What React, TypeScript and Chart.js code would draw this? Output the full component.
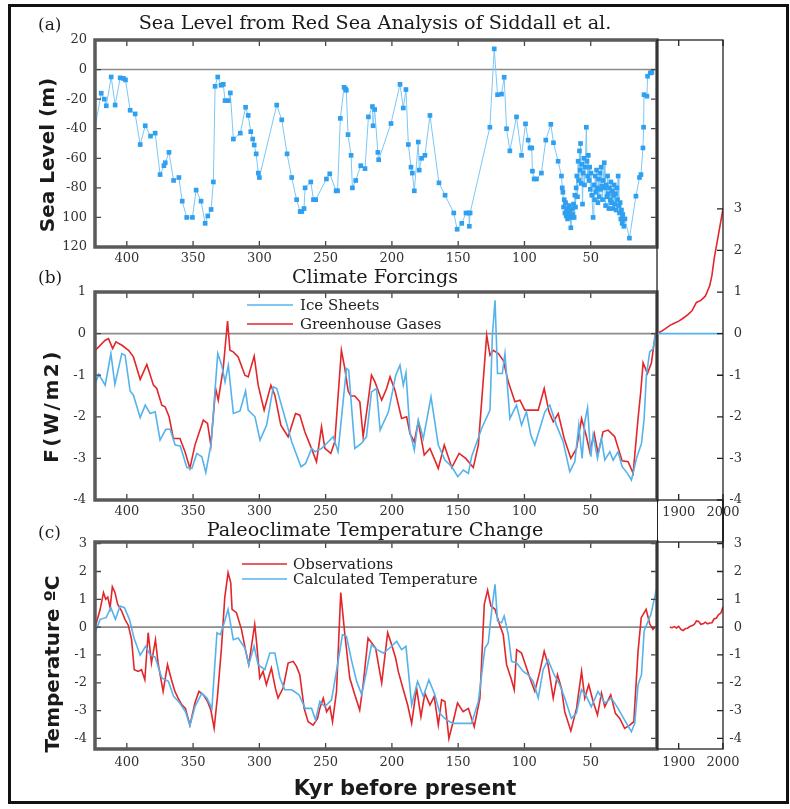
import React, { useEffect, useRef } from 'react';
import { Chart, registerables } from 'chart.js';
Chart.register(...registerables);

type P = [number, number];

// ---------- tick values ----------
const kyrTicks = [400, 350, 300, 250, 200, 150, 100, 50];
const yearTicks = [1900, 2000];
const seaLevelTicks = [20, 0, -20, -40, -60, -80, -100, -120];
const forcingTicks = [1, 0, -1, -2, -3, -4];
const tempTicks = [3, 2, 1, 0, -1, -2, -3, -4];
const rightTicks = [3, 2, 1, 0, -1, -2, -3, -4];

// ---------- (a) sea level (kyr BP, m) ----------
const seaLevel: P[] = [
  [425,-44],[419.3,-16],[417,-20],[415.5,-24.5],[411.8,-5],[408.8,-24],[405,-5.6],[402.5,-6],[401,-7],[397.5,-27.5],
  [393.7,-30],[389.9,-50.7],[386.1,-38],[382.1,-45],[378.6,-43],[374.9,-71],[372,-65],[371,-63],[368.2,-56],[364.7,-75],
  [360.7,-73],[358.2,-89],[354.8,-100],[350.5,-100],[347.7,-81.5],[344,-89],[340.9,-104],[338.9,-99],[336.4,-94.6],[334.7,-76],
  [333.4,-11.3],[331.4,-5],[328.9,-10.6],[327.2,-10],[325.9,-21],[323.4,-21],[321.9,-15.8],[319.6,-47],[314.4,-43],[310.4,-25.5],
  [308.4,-31],[306.5,-42],[305,-47],[303.9,-51],[302.4,-57],[300.8,-70],[300,-73],[286.9,-24],[283.1,-34],[279.1,-57],
  [275.6,-73],[271.9,-88],[269.2,-96],[268,-96],[266.3,-94],[265.5,-80],[261.2,-76],[259.2,-88],[257.5,-88],[249.4,-74],
  [246.9,-70.5],[242.1,-82],[241,-82],[238.9,-33],[236.1,-12],[235,-13],[234.4,-14],[233.1,-44],[230.8,-58],[229.8,-80],
  [227.3,-75],[223.5,-65],[220.3,-67],[217.7,-32],[214.7,-25],[214.2,-38],[213,-27],[210.6,-56],[210,-61],[200.7,-36.5],
  [193.9,-10],[191.4,-26],[189.4,-13.5],[187.6,-50.7],[185.6,-66],[184.6,-70],[183.1,-82],[180.1,-49],[179.4,-68],[177.6,-60],
  [175.1,-58],[171.3,-31],[164.5,-76.6],[159.9,-85],[153.3,-97],[150.8,-108],[147.3,-104],[144.1,-97],[142,-97],[141.6,-106],
  [141,-97],[126.1,-39],[122.8,14],[120.3,-17],[117.3,-16.6],[115.3,-5.2],[113.5,-40],[111,-55],[106,-32],[102.2,-58],
  [99.2,-36.7],[97.2,-47.7],[95.8,-53],[94.5,-53],[94,-68.7],[92.7,-74],[90.9,-74],[87.2,-70],[83.9,-47.7],[80.1,-37],
  [78.1,-49.5],[74.6,-62],[72.1,-72],[71.5,-80],[71,-83],[70.5,-93],[70,-88],[69.5,-97],[69,-90],[68.5,-99],
  [68,-94],[67.5,-101],[67,-96],[66.5,-92],[66,-99],[65.5,-95],[65,-107],[64.5,-100],[64,-94],[63.5,-98],
  [63,-91],[62.5,-100],[62,-85],[61.5,-93],[61,-80],[60.5,-72],[60,-86],[59.5,-62],[59,-75],[58.5,-55],
  [58,-68],[57.7,-50],[57.2,-77],[56.7,-64],[56.2,-91],[55.7,-70],[55.2,-60],[54.7,-78],[54.2,-66],[53.3,-39],
  [52.8,-62],[52.3,-72],[51.8,-58],[51.3,-75],[50.8,-66],[50.3,-81],[49.8,-70],[49.2,-85],[48.2,-100],[47.6,-78],
  [47.1,-88],[46.6,-72],[46.1,-83],[45.6,-68],[45.1,-80],[44.6,-90],[44.1,-74],[43.6,-86],[43.1,-70],[42.6,-81],
  [42.1,-66],[41.6,-79],[41.1,-88],[40.6,-75],[39.8,-63],[39.3,-80],[38.8,-92],[38.3,-78],[37.8,-86],[37.3,-72],
  [36.8,-84],[36.3,-94],[35.8,-80],[35.3,-88],[34.8,-76],[34.3,-90],[33.8,-82],[33.3,-94],[32.8,-85],[32.3,-78],
  [31.8,-91],[31.3,-84],[30.8,-95],[30.3,-80],[29.8,-88],[29.3,-72],[28.8,-92],[28.3,-97],[27.8,-90],[27.3,-101],
  [26.8,-95],[26.3,-104],[25.8,-98],[25,-106],[24.2,-101],[20.8,-114],[15.9,-85.6],[13.2,-73],[12.1,-71],[10.6,-53],
  [10.1,-39],[9.8,-17],[7.6,-18],[7.1,-4.5],[5.1,-2.3],[3.9,-2],
];

// ---------- (b) climate forcings (kyr BP, W/m2) ----------
const iceSheets: P[] = [
  [424.3,-1.24],[421.2,-0.98],[416.3,-1.24],[412,-0.48],[409,-1.22],[403.8,-0.48],[401.3,-0.52],[397.5,-1.38],[395,-1.48],[389.9,-2.02],
  [386.1,-1.72],[382.4,-1.92],[378.6,-1.88],[374.9,-2.56],[370.6,-2.3],[367.3,-2.3],[363.5,-2.68],[359.7,-2.7],[354.7,-3.22],[350.9,-3.24],
  [347.2,-2.88],[343.4,-2.96],[340.4,-3.34],[336.4,-2.64],[331.4,-0.48],[328.4,-0.76],[325.9,-1.16],[323.4,-0.76],[319.6,-1.92],[314.6,-1.86],
  [310.4,-1.38],[308.4,-1.84],[303.3,-2.0],[299.5,-2.56],[294.5,-2.2],[289.5,-1.28],[286.9,-1.32],[281.9,-1.88],[275.6,-2.6],[268.6,-3.2],
  [265.1,-3.12],[260.5,-2.76],[258,-2.84],[253,-2.76],[248,-2.6],[244.3,-2.48],[240.6,-2.84],[234.3,-0.84],[232.6,-0.88],[228,-2.76],
  [223,-2.64],[219.2,-2.48],[215.4,-1.4],[211.6,-1.32],[208.9,-2.32],[202.6,-1.88],[197.1,-1.0],[193.9,-0.76],[191.4,-1.24],[189.4,-0.94],
  [186.4,-2.36],[183.1,-2.8],[180.1,-2.08],[176.3,-2.52],[170.5,-1.52],[165,-2.68],[160,-3.04],[154.8,-3.2],[150.3,-3.44],[146.1,-3.28],
  [142.3,-3.36],[139.9,-2.96],[132.3,-2.28],[126,-1.84],[124.2,-0.04],[122.2,0.8],[120.3,-0.96],[116.7,-0.96],[114.7,-0.48],[111,-2.04],
  [106,-1.72],[102.2,-2.2],[98.5,-1.88],[95.2,-2.44],[92.2,-2.68],[84.6,-1.88],[80.9,-1.72],[75.9,-2.2],[70.8,-2.6],[65.8,-3.32],
  [62,-3.08],[59,-2.2],[56.5,-3.0],[54.5,-2.12],[52.4,-1.78],[49.9,-2.96],[48.2,-2.44],[44.9,-3.0],[41.9,-2.52],[39.4,-3.04],
  [35.6,-2.84],[33.1,-3.04],[29.4,-2.84],[26.3,-3.2],[22.3,-3.36],[19.3,-3.52],[15.5,-3.0],[11.7,-2.64],[9.7,-2.04],[8,-1.0],
  [5.5,-0.44],[2.9,-0.36],[1.2,0],[0,0],
];

const greenhouseGases: P[] = [
  [424,-0.4],[422.5,-0.36],[416.3,-0.16],[413.8,-0.12],[410.7,-0.36],[408.2,-0.2],[403.7,-0.28],[398.7,-0.4],[395,-0.56],[389.9,-1.1],
  [384.9,-0.74],[379.9,-1.24],[377.4,-1.32],[373.6,-1.72],[371.1,-1.76],[368.1,-2.0],[364.9,-2.52],[359.9,-2.52],[356.1,-2.84],[352.4,-3.24],
  [348.6,-2.68],[342.3,-2.08],[339.1,-2.16],[336.6,-2.68],[333,-1.32],[331,-1.6],[327.3,-0.84],[325.5,-0.22],[324,0.3],[322.2,-0.4],
  [319.7,-0.44],[316,-0.56],[310.9,-1.0],[308.4,-1.04],[303.9,-0.54],[300.9,-1.24],[296.4,-1.84],[291.3,-1.24],[288.3,-1.48],[283.8,-2.2],
  [278.3,-2.48],[272.7,-1.92],[269.5,-1.96],[265.7,-2.36],[260.7,-2.76],[256.9,-3.08],[253.1,-2.24],[250.6,-2.76],[246.1,-2.88],[243.1,-2.6],
  [238.1,-0.4],[235.5,-0.84],[233,-1.38],[231,-1.5],[228,-1.5],[224.2,-1.64],[221.7,-2.48],[218,-1.64],[215.4,-1.0],[212.8,-1.16],
  [207.7,-1.6],[204,-1.32],[201.4,-1.04],[197.7,-1.36],[192.7,-2.04],[188.9,-2.0],[186.4,-2.4],[183.1,-2.6],[180.1,-2.12],[175.6,-2.92],
  [171.3,-2.76],[165,-3.24],[160.5,-2.68],[154.8,-3.22],[149.3,-2.88],[144.3,-3.0],[141.1,-3.12],[138.6,-3.22],[134.8,-2.68],[128.5,-0.04],
  [126,-0.52],[123.5,-0.4],[119.7,-0.48],[116,-0.64],[112.2,-1.16],[107.2,-1.64],[103.4,-1.6],[99.7,-1.84],[95.2,-1.84],[89.6,-1.84],
  [85.1,-1.32],[81.5,-1.88],[78.3,-2.12],[74.5,-1.92],[70,-2.52],[65,-3.0],[60.7,-2.76],[56.9,-2.04],[53.2,-2.48],[50.7,-2.84],
  [47.4,-2.4],[44.4,-2.88],[40.7,-2.36],[36.9,-2.32],[31.9,-2.48],[26.3,-3.06],[21.8,-3.08],[18,-3.36],[14.3,-2.04],[12.2,-1.38],
  [10.5,-0.7],[7.2,-0.96],[4.2,-0.7],[1.2,0],[0,0.02],
];

// ---------- (c) temperature (kyr BP, degC) ----------
const observations: P[] = [
  [424.5,0.0],[423,0.15],[420.1,0.64],[417.6,1.24],[415.9,1.0],[414.4,1.08],[412.6,0.7],[410.9,1.45],[408.9,1.24],[406.9,0.82],
  [403.9,0.58],[401.4,0.28],[398.9,0.07],[396.4,-0.45],[394.4,-1.53],[391.4,-1.59],[388.9,-1.53],[386.4,-1.89],[383.9,-0.2],[381.4,-1.29],
  [378.4,-0.45],[376.4,-1.29],[372.6,-2.31],[369.3,-1.35],[366.3,-1.89],[363.8,-2.3],[361.3,-2.55],[358.8,-2.77],[355.8,-2.92],[352.4,-3.52],
  [348.6,-2.73],[345.6,-2.31],[342.3,-2.43],[339.1,-2.67],[336.6,-2.98],[334.1,-3.64],[331.6,-2.49],[328.6,-0.75],[326.1,1.06],[323.6,1.96],
  [321.6,1.6],[320.6,0.64],[317.3,0.52],[313.5,-0.08],[310.5,-0.81],[308,-1.35],[303.5,0.1],[302.2,-0.5],[299.7,-1.83],[297.2,-1.59],
  [294.7,-2.07],[290.9,-1.47],[287.9,-2.2],[285.9,-2.55],[282.1,-2.19],[278.3,-1.29],[274.5,-1.23],[272,-1.41],[269.5,-1.71],[266.2,-2.92],
  [263.2,-3.4],[259.4,-3.52],[256.1,-3.28],[254.4,-2.92],[251.8,-2.55],[249.3,-3.04],[246.8,-2.86],[244.8,-3.4],[241.8,-2.31],[238.6,1.24],
  [235.5,-0.27],[231.8,-1.83],[228,-2.43],[224.3,-2.98],[221.7,-2.07],[218,-0.39],[214.2,-0.63],[212.3,-0.75],[207.7,-2.01],[203.2,-0.2],
  [200.2,-0.63],[197.2,-1.11],[195.2,-1.59],[191.4,-2.25],[188.1,-2.8],[185.1,-3.46],[181.4,-2.19],[178.1,-3.22],[175.1,-2.37],[171.3,-2.8],
  [168.1,-2.49],[165,-3.52],[162.5,-2.61],[160,-2.67],[157,-4.0],[153.8,-3.4],[150.5,-2.73],[146.3,-3.04],[142.3,-2.92],[137.9,-3.58],
  [133.6,-2.55],[130.3,0.82],[127.8,1.33],[125.3,0.76],[122.2,0.64],[119.2,0.16],[116,-0.27],[113.5,-1.35],[110.2,-1.83],[107.7,-2.25],
  [105.9,-0.81],[102.2,-0.93],[99.7,-1.29],[95.9,-1.83],[92.2,-2.31],[88.4,-1.59],[85.1,-0.87],[82.2,-1.35],[78.3,-2.55],[75.1,-1.71],
  [72.1,-2.19],[69.6,-3.04],[65,-3.73],[60.7,-2.92],[56.9,-1.59],[54.5,-2.55],[51.5,-2.07],[48.2,-2.67],[44.9,-3.16],[41.9,-2.37],
  [39.4,-2.86],[34.9,-2.43],[31.4,-3.1],[28.1,-3.28],[24.4,-3.64],[20.6,-3.52],[17.5,-3.4],[14.3,-0.87],[11.9,0.34],[8.2,0.64],
  [5.5,0.12],[3.1,-0.08],[0.6,0.04],
];

const calculated: P[] = [
  [425,-0.33],[420.1,0.28],[415.6,0.34],[412,0.7],[408.6,0.28],[405.1,0.76],[401.8,0.7],[398,0.28],[394.6,-0.39],[389.9,-1.01],
  [385.8,-0.69],[382.4,-0.99],[378.6,-1.08],[373.6,-1.83],[368.6,-1.95],[364.7,-2.49],[361,-2.67],[355.7,-3.04],[352.4,-3.54],[348.6,-2.86],
  [343.4,-2.37],[339.6,-2.55],[335.8,-2.92],[332,-0.2],[329.4,-0.27],[326.1,0.22],[323.6,0.64],[319.7,-0.45],[316,-0.39],[310.9,-0.75],
  [308,-1.35],[304,-0.69],[300.9,-1.35],[295.9,-1.53],[292.1,-0.93],[288.3,-0.93],[284.5,-1.83],[280.8,-2.25],[275.6,-2.25],[270.1,-2.43],
  [265.4,-2.92],[260.6,-2.92],[257.6,-3.34],[254.4,-2.67],[250.6,-2.86],[245.5,-2.61],[241,-1.35],[237.3,-0.27],[234.3,-0.33],[230.3,-1.23],
  [226.6,-1.95],[222.8,-2.43],[219.2,-1.59],[215.4,-0.63],[211.6,-0.8],[206.5,-0.93],[201.7,-0.75],[196.4,-0.51],[192.7,-0.81],[189.4,-0.69],
  [185.1,-2.8],[180.6,-1.95],[176.3,-2.49],[172.1,-1.89],[167.6,-2.43],[163.8,-3.1],[158.8,-3.34],[153.8,-3.46],[147.6,-3.46],[139.9,-3.46],
  [134.8,-2.67],[129.8,-0.75],[127.3,-0.57],[124.2,0.82],[122.2,1.54],[120.3,0.22],[117.3,0.16],[115.3,0.4],[112.2,-0.27],[109.7,-1.23],
  [105.9,-1.29],[100.9,-1.59],[97.2,-1.71],[93.4,-1.95],[89.6,-2.55],[85.9,-1.53],[82.2,-1.17],[77.6,-1.71],[73.4,-2.07],[69.6,-2.55],
  [64.6,-3.28],[60.8,-3.1],[57,-2.25],[53.3,-2.49],[49.6,-2.86],[44.5,-2.31],[39.4,-2.73],[34.4,-2.55],[29.4,-2.92],[24.4,-3.34],
  [19.3,-3.76],[16.8,-3.46],[14.3,-2.07],[11.7,-1.71],[9.7,-0.14],[7.2,0.16],[4.6,0.46],[2.1,1.0],[0.4,1.36],
];

// ---------- modern (year AD) ----------
const modernGhg: P[] = [
  [1851,0],[1860,0.05],[1870,0.12],[1880,0.2],[1890,0.25],[1900,0.3],[1910,0.37],[1920,0.45],[1930,0.55],[1940,0.75],
  [1950,0.8],[1960,0.9],[1970,1.15],[1975,1.4],[1980,1.8],[1985,2.1],[1990,2.4],[1995,2.7],[2000,3.0],
];
const modernIce: P[] = [[1851,0],[2000,0]];
const modernTemp: P[] = [
  [1880,0.0],[1885,-0.02],[1890,0.02],[1895,-0.03],[1900,0.03],[1905,-0.08],[1910,-0.12],[1915,-0.05],[1920,-0.04],[1925,0.02],
  [1930,0.05],[1935,0.1],[1940,0.22],[1945,0.2],[1950,0.1],[1955,0.12],[1960,0.18],[1965,0.12],[1970,0.15],[1975,0.16],
  [1980,0.3],[1985,0.32],[1990,0.45],[1995,0.5],[2000,0.72],
];

// ---------- styling ----------
const SERIF = '"DejaVu Serif", serif';
const SANS = '"DejaVu Sans", sans-serif';
const tickFont = { family: SERIF, size: 13 };
const BLUE = '#55b3ec';
const RED = '#e2262a';

const pts = (a: P[]) => a.map(([x, y]) => ({ x, y }));

function makeFrame(cfg: any) {
  return {
    id: 'frame',
    beforeDatasetsDraw(chart: any) {
      if (!cfg.zero) return;
      const { ctx, chartArea: a, scales } = chart;
      const y = scales.y.getPixelForValue(0);
      ctx.save();
      ctx.strokeStyle = cfg.zero;
      ctx.lineWidth = 1.6;
      ctx.beginPath();
      ctx.moveTo(a.left, y);
      ctx.lineTo(a.right, y);
      ctx.stroke();
      ctx.restore();
    },
    afterDraw(chart: any) {
      const { ctx, chartArea: a, scales } = chart;
      const L = cfg.tickLen;
      ctx.save();
      ctx.strokeStyle = cfg.tickColor;
      ctx.lineWidth = cfg.tickWidth;
      ctx.beginPath();
      scales.x.ticks.forEach((t: any) => {
        const x = scales.x.getPixelForValue(t.value);
        ctx.moveTo(x, a.top); ctx.lineTo(x, a.top + L);
        ctx.moveTo(x, a.bottom); ctx.lineTo(x, a.bottom - L);
      });
      scales.y.ticks.forEach((t: any) => {
        const y = scales.y.getPixelForValue(t.value);
        if (cfg.left) { ctx.moveTo(a.left, y); ctx.lineTo(a.left + L, y); }
        if (cfg.right) { ctx.moveTo(a.right, y); ctx.lineTo(a.right - L, y); }
      });
      ctx.stroke();
      ctx.strokeStyle = cfg.color;
      ctx.lineWidth = cfg.width;
      ctx.strokeRect(a.left, a.top, a.right - a.left, a.bottom - a.top);
      ctx.restore();
    },
  };
}

function makeLegend(cfg: { x0: number; x1: number; tx: number; items: { index: number; y: number }[] }) {
  return {
    id: 'inlineLegend',
    afterDatasetsDraw(chart: any) {
      const ctx = chart.ctx;
      ctx.save();
      ctx.font = `15px ${SERIF}`;
      ctx.textBaseline = 'middle';
      ctx.textAlign = 'left';
      cfg.items.forEach((it) => {
        const ds = chart.data.datasets[it.index];
        ctx.strokeStyle = ds.borderColor;
        ctx.lineWidth = 1.6;
        ctx.beginPath();
        ctx.moveTo(cfg.x0, it.y);
        ctx.lineTo(cfg.x1, it.y);
        ctx.stroke();
        ctx.fillStyle = '#222';
        ctx.fillText(ds.label, cfg.tx, it.y + 1);
      });
      ctx.restore();
    },
  };
}

function xScale(min: number, max: number, ticks: number[], height: number, padding: number, reverse: boolean) {
  return {
    type: 'linear', min, max, reverse,
    afterBuildTicks: (s: any) => { s.ticks = ticks.map((v) => ({ value: v })); },
    afterFit: (s: any) => { s.height = height; },
    grid: { display: false, drawTicks: false },
    border: { display: false },
    ticks: { font: tickFont, color: '#333', padding, maxRotation: 0, minRotation: 0, autoSkip: false, callback: (v: any) => String(v) },
  };
}

function yScale(min: number, max: number, ticks: number[], width: number, position: string, padding: number, cb?: (v: number) => string) {
  return {
    type: 'linear', position, min, max,
    afterBuildTicks: (s: any) => { s.ticks = ticks.map((v) => ({ value: v })); },
    afterFit: (s: any) => { s.width = width; },
    grid: { display: false, drawTicks: false },
    border: { display: false },
    ticks: {
      font: tickFont, color: '#333', padding,
      crossAlign: position === 'right' ? 'far' : 'near',
      callback: (v: any) => (cb ? cb(v) : String(v)),
    },
  };
}

// layout top padding (must exceed half a tick label + tick padding so Chart.js does not add more)
const TOP = 18;

function baseOptions(padding: any, scales: any) {
  return {
    responsive: false,
    maintainAspectRatio: false,
    animation: false,
    devicePixelRatio: 1,
    layout: { padding },
    plugins: { legend: { display: false }, tooltip: { enabled: false }, title: { display: false } },
    scales,
    elements: { line: { tension: 0 } },
  };
}

const mainFrame = (zero: boolean) =>
  makeFrame({ color: '#5a5a5a', width: 3.5, tickColor: '#444', tickWidth: 1.3, tickLen: 6, left: true, right: true, zero: zero ? '#8c8c8c' : null });
const rightFrame = () =>
  makeFrame({ color: '#222', width: 1.3, tickColor: '#222', tickWidth: 1.3, tickLen: 6, left: false, right: true, zero: null });

const lineDs = (label: string, data: P[], color: string, width = 1.6) => ({
  label, data: pts(data), borderColor: color, backgroundColor: color, borderWidth: width, pointRadius: 0, fill: false,
});

const makeA = () => ({
  type: 'line',
  data: {
    datasets: [{
      label: 'Sea Level', data: pts(seaLevel), borderColor: '#7cc7f6', borderWidth: 1,
      pointRadius: 3.3, pointStyle: 'rect', pointBackgroundColor: '#2f9ff0', pointBorderColor: '#2f9ff0', pointBorderWidth: 0, fill: false,
    }],
  },
  options: baseOptions({ top: TOP, right: 13, left: 0, bottom: 0 }, {
    x: xScale(0, 424, kyrTicks, 28, 4, true),
    y: yScale(-120, 20, seaLevelTicks, 50, 'left', 8, (v) => (v <= -100 ? String(-v) : String(v))),
  }),
  plugins: [mainFrame(true)],
});

const makeB = () => ({
  type: 'line',
  data: { datasets: [lineDs('Ice Sheets', iceSheets, BLUE), lineDs('Greenhouse Gases', greenhouseGases, RED)] },
  options: baseOptions({ top: TOP, right: 13, left: 0, bottom: 0 }, {
    x: xScale(0, 424, kyrTicks, 27, 4, true),
    y: yScale(-4, 1, forcingTicks, 50, 'left', 9),
  }),
  plugins: [mainFrame(true), makeLegend({ x0: 202, x1: 248, tx: 255, items: [{ index: 0, y: 31 }, { index: 1, y: 50 }] })],
});

const makeC = () => ({
  type: 'line',
  data: { datasets: [lineDs('Calculated Temperature', calculated, BLUE), lineDs('Observations', observations, RED)] },
  options: baseOptions({ top: TOP, right: 13, left: 0, bottom: 0 }, {
    x: xScale(0, 424, kyrTicks, 33, 6, true),
    y: yScale(-4.38, 3.06, tempTicks, 50, 'left', 8),
  }),
  plugins: [mainFrame(true), makeLegend({ x0: 197, x1: 242, tx: 248, items: [{ index: 1, y: 40 }, { index: 0, y: 55 }] })],
});

const makeTall = () => ({
  type: 'line',
  data: { datasets: [lineDs('Ice Sheets', modernIce, BLUE), lineDs('Greenhouse Gases', modernGhg, RED)] },
  options: baseOptions({ top: TOP, right: 18, left: 7, bottom: 0 }, {
    x: xScale(1851, 2000, yearTicks, 25, 5, false),
    y: yScale(-4, 7.06, rightTicks, 19, 'right', 5),
  }),
  plugins: [rightFrame()],
});

const makeRightC = () => ({
  type: 'line',
  data: { datasets: [lineDs('Observations', modernTemp, RED)] },
  options: baseOptions({ top: TOP, right: 18, left: 7, bottom: 0 }, {
    x: xScale(1851, 2000, yearTicks, 33, 6, false),
    y: yScale(-4.38, 3.06, rightTicks, 19, 'right', 5),
  }),
  plugins: [rightFrame()],
});

function ChartCanvas({ left, top, width, height, make }: { left: number; top: number; width: number; height: number; make: () => any }) {
  const ref = useRef<HTMLCanvasElement>(null);
  useEffect(() => {
    const chart = new Chart(ref.current as HTMLCanvasElement, make());
    return () => chart.destroy();
  }, []);
  return <canvas ref={ref} width={width} height={height} style={{ position: 'absolute', left, top, width, height }} />;
}

function Label({ x, y, text, size, bold, sans, rotate, left, spacing }: any) {
  return (
    <div
      style={{
        position: 'absolute', left: x, top: y,
        transform: `translate(${left ? '0' : '-50%'}, -50%)${rotate ? ' rotate(-90deg)' : ''}`,
        fontFamily: sans ? SANS : SERIF, fontSize: size, fontWeight: bold ? 'bold' : 'normal',
        whiteSpace: 'nowrap', lineHeight: 1, color: '#1a1a1a', letterSpacing: spacing || 0,
      }}
    >
      {text}
    </div>
  );
}

export default function App() {
  return (
    <div style={{ position: 'absolute', left: 0, top: 0, width: 790, height: 809, background: '#fff', overflow: 'hidden' }}>
      <div style={{ position: 'absolute', left: 8, top: 4, width: 781, height: 800, border: '3px solid #111', boxSizing: 'border-box' }} />
      <ChartCanvas left={45} top={40 - TOP} width={625} height={247 + 28 - (40 - TOP)} make={makeA} />
      <ChartCanvas left={45} top={292 - TOP} width={625} height={500 + 27 - (292 - TOP)} make={makeB} />
      <ChartCanvas left={45} top={542 - TOP} width={625} height={749 + 33 - (542 - TOP)} make={makeC} />
      <ChartCanvas left={650} top={40 - TOP} width={110} height={500 + 25 - (40 - TOP)} make={makeTall} />
      <ChartCanvas left={650} top={542 - TOP} width={110} height={749 + 33 - (542 - TOP)} make={makeRightC} />
      <div style={{ position: 'absolute', left: 657, top: 500, width: 1.3, height: 42, background: '#222' }} />
      <div style={{ position: 'absolute', left: 722.4, top: 500, width: 1.3, height: 42, background: '#222' }} />

      <Label x={38} y={24} text="(a)" size={17} left />
      <Label x={375} y={23} text="Sea Level from Red Sea Analysis of Siddall et al." size={19.2} />
      <Label x={38} y={277} text="(b)" size={17} left />
      <Label x={375} y={277} text="Climate Forcings" size={19.2} />
      <Label x={38} y={532} text="(c)" size={17} left />
      <Label x={375} y={530} text="Paleoclimate Temperature Change" size={19.2} />

      <Label x={47} y={155} text="Sea Level (m)" size={20} bold sans rotate />
      <Label x={51} y={406} text="F(W/m2)" size={20} bold sans rotate spacing="2.5px" />
      <Label x={52} y={664} text="Temperature ºC" size={20} bold sans rotate />
      <Label x={405} y={788} text="Kyr before present" size={21} bold sans />
    </div>
  );
}
